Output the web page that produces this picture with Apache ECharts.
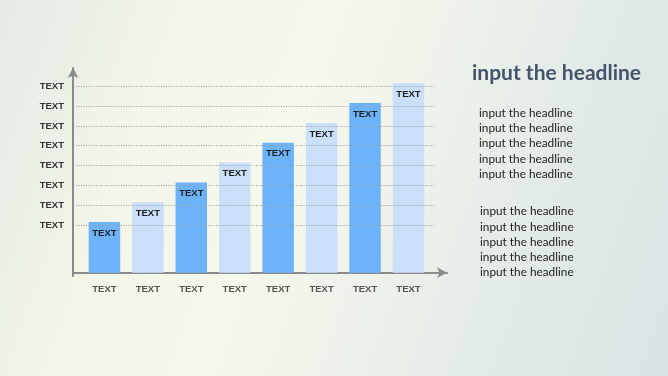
<!DOCTYPE html>
<html>
<head>
<meta charset="utf-8">
<script src="https://cdn.jsdelivr.net/npm/echarts@6/dist/echarts.min.js"></script>
<style>
  html, body { margin: 0; padding: 0; }
  #chart {
    width: 668px; height: 376px;
    background: linear-gradient(110deg, #e4ebe6 0%, #f2f5e8 22%, #f7f8ec 42%, #eef2ea 58%, #e1eae8 78%, #d9e5e5 100%);
  }
</style>
</head>
<body>
<div id="chart"></div>
<script>
// 数据
var categories = ['TEXT', 'TEXT', 'TEXT', 'TEXT', 'TEXT', 'TEXT', 'TEXT', 'TEXT']
var values = [2.55, 3.55, 4.55, 5.55, 6.55, 7.55, 8.55, 9.55]
var gridLevels = [2.4, 3.4, 4.4, 5.4, 6.4, 7.4, 8.4, 9.4]
var levelLabels = ['TEXT', 'TEXT', 'TEXT', 'TEXT', 'TEXT', 'TEXT', 'TEXT', 'TEXT']
var barColors = ['#6cb3fa', '#c9dffa']
var headline = 'input the headline'
var bodyLines1 = ['input the headline', 'input the headline', 'input the headline', 'input the headline', 'input the headline']
var bodyLines2 = ['input the headline', 'input the headline', 'input the headline', 'input the headline', 'input the headline']

var chart = echarts.init(document.getElementById('chart'))

var yMax = 10.32
var gridLines = gridLevels.map(function (v, i) {
    return [
        { coord: [3, v], label: { formatter: levelLabels[i] } },
        { coord: [362, v] }
    ]
})

chart.setOption({
    backgroundColor: 'transparent',
    textStyle: { fontFamily: 'Liberation Sans' },
    title: [{
        text: headline,
        left: 472, top: 63, padding: 0,
        textStyle: { fontFamily: 'Lato', fontSize: 21, fontWeight: 'bold', color: '#44546a' }
    }, {
        text: bodyLines1.join('\n'),
        left: 479, top: 105.5, padding: 0,
        textStyle: { fontFamily: 'Lato', fontSize: 11.8, fontWeight: 'normal', color: '#222', lineHeight: 15.25 }
    }, {
        text: bodyLines2.join('\n'),
        left: 480, top: 204, padding: 0,
        textStyle: { fontFamily: 'Lato', fontSize: 11.8, fontWeight: 'normal', color: '#222', lineHeight: 15.25 }
    }],
    grid: [
        // 坐标轴(带箭头)
        { left: 73, right: 221, top: 68, bottom: 100 },
        // 柱子
        { left: 82.7, right: 237.8, top: 68, bottom: 103.3 }
    ],
    xAxis: [{
        gridIndex: 0, type: 'value', min: 0, max: 374,
        axisLine: { show: true, symbol: ['none', 'arrow'], symbolSize: [8, 10], lineStyle: { color: '#8a8a8a', width: 2 } },
        axisTick: { show: false }, axisLabel: { show: false }, splitLine: { show: false }
    }, {
        gridIndex: 1, type: 'category', data: categories,
        axisLine: { show: false }, axisTick: { show: false },
        axisLabel: { margin: 12, fontSize: 9.5, fontWeight: 'bold', color: '#555' }
    }],
    yAxis: [{
        gridIndex: 0, type: 'value', min: -0.17, max: yMax,
        axisLine: { show: true, symbol: ['none', 'arrow'], symbolSize: [8, 10], lineStyle: { color: '#8a8a8a', width: 2 } },
        axisTick: { show: false }, axisLabel: { show: false }, splitLine: { show: false }
    }, {
        gridIndex: 1, type: 'value', min: 0, max: yMax, show: false
    }],
    series: [{
        type: 'line',
        xAxisIndex: 0, yAxisIndex: 0,
        data: [],
        silent: true,
        markLine: {
            symbol: ['none', 'none'],
            silent: true,
            lineStyle: { type: [1, 1.5], color: '#a0a0a0', width: 1 },
            label: { position: 'start', distance: 12, fontSize: 9.5, fontWeight: 'bold', color: '#333' },
            data: gridLines
        }
    }, {
        type: 'bar',
        xAxisIndex: 1, yAxisIndex: 1,
        data: values,
        barWidth: 31.5,
        z: 3,
        itemStyle: {
            color: function (p) { return barColors[p.dataIndex % 2] }
        },
        label: {
            show: true,
            position: 'insideTop',
            distance: 6,
            formatter: function (p) { return categories[p.dataIndex] },
            fontSize: 9.5, fontWeight: 'bold', color: '#1e1e1e'
        }
    }]
})
</script>
</body>
</html>
